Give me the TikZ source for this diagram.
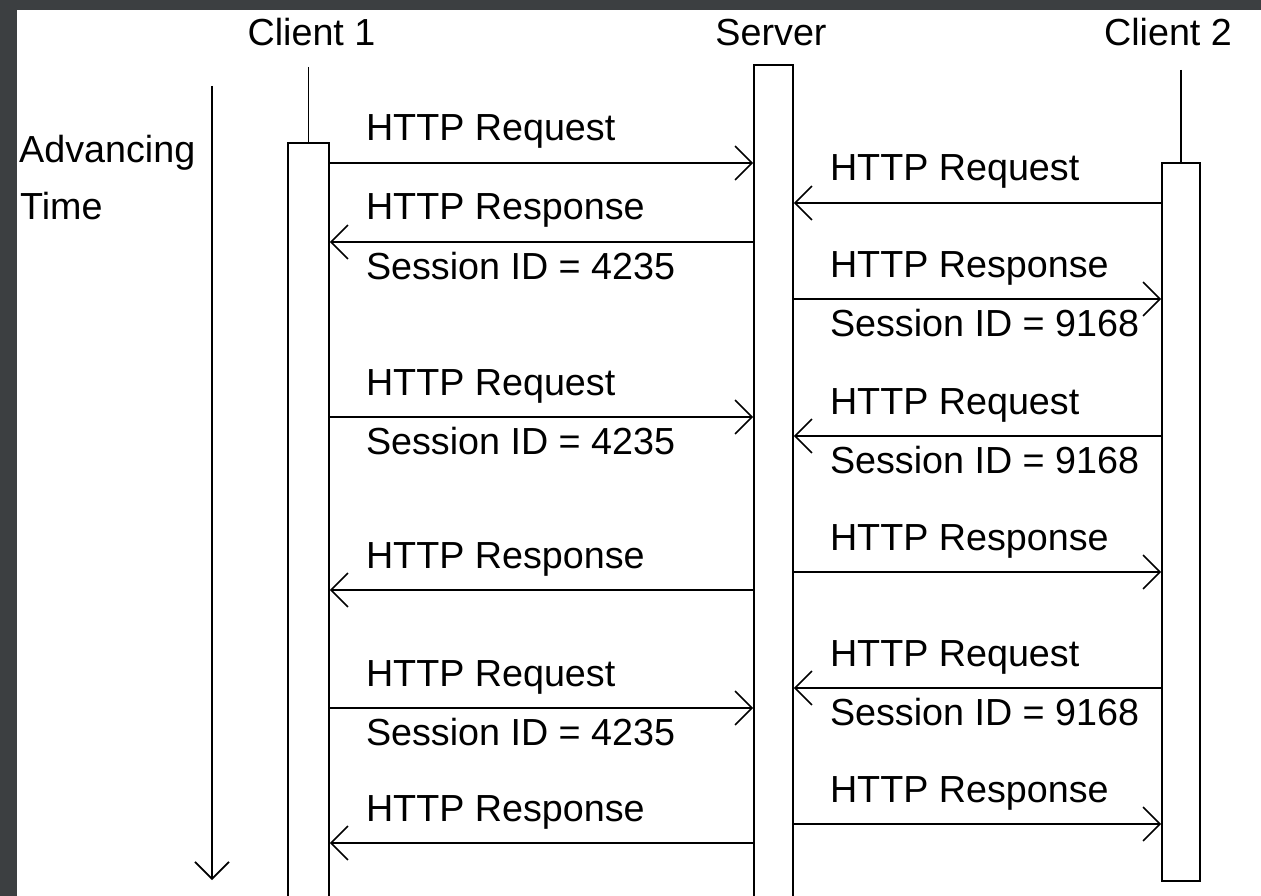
\documentclass[tikz,border=0pt]{standalone}
\usepackage{fontspec}
\setmainfont{Liberation Sans}
\usetikzlibrary{arrows.meta}
\definecolor{bggray}{RGB}{60,63,65}
\tikzset{
  lifebox/.style={draw, line width=1.6pt, anchor=north, minimum height=900pt, inner sep=0pt},
  msg/.style={line width=1.6pt, -{Straight Barb[length=17pt, width=34pt]}},
  lbl/.style={anchor=base west, inner sep=0pt, font=\fontsize{37.7}{45}\selectfont},
  title/.style={lbl, anchor=base},
  over/.style={lbl, xshift=36pt, yshift=22pt},
  under/.style={lbl, xshift=36pt, yshift=-37pt},
}

\begin{document}
\begin{tikzpicture}[x=1pt, y=-1pt]
      \fill[bggray] (0,0) rectangle (1261,896);
      \useasboundingbox (0,0) rectangle (1261,896);
      \fill[white] (17,10) rectangle (1261,896);

      \node[title] (c1name) at (311.5,46) {Client 1};
      \node[title] (srvname) at (771,46) {Server};
      \node[title] (c2name) at (1168,46) {Client 2};

      \node[lifebox, minimum width=41pt] (c1) at (308.5,142) {};
      \node[lifebox, minimum width=39pt] (srv) at (773.5,64) {};
      \node[lifebox, minimum width=38pt, minimum height=718pt] (c2) at (1181,162) {};
      \coordinate (c1top) at (308.5,67);
      \coordinate (c2top) at (1181,70);
      \draw[line width=1.6pt] (c1top) -- (c1.north);
      \draw[line width=1.6pt] (c2top) -- (c2.north);

      \coordinate (tstart) at (212,86);
      \coordinate (tend) at (212,880);
      \draw[msg] (tstart) -- (tend);
      \node[lbl] (adv) at (19,163) {Advancing};
      \node[lbl] (time) at (20,220) {Time};

      \path (0,163) coordinate (a1) (0,242) coordinate (a2)
            (0,417) coordinate (a3) (0,590) coordinate (a4)
            (0,708) coordinate (a5) (0,843) coordinate (a6);
      \path (0,203) coordinate (b1) (0,299) coordinate (b2)
            (0,436) coordinate (b3) (0,572) coordinate (b4)
            (0,688) coordinate (b5) (0,824) coordinate (b6);

      \draw[msg] (c1.east |- a1) -- (srv.west |- a1);
      \draw[msg] (srv.west |- a2) -- (c1.east |- a2);
      \draw[msg] (c1.east |- a3) -- (srv.west |- a3);
      \draw[msg] (srv.west |- a4) -- (c1.east |- a4);
      \draw[msg] (c1.east |- a5) -- (srv.west |- a5);
      \draw[msg] (srv.west |- a6) -- (c1.east |- a6);

      \draw[msg] (c2.west |- b1) -- (srv.east |- b1);
      \draw[msg] (srv.east |- b2) -- (c2.west |- b2);
      \draw[msg] (c2.west |- b3) -- (srv.east |- b3);
      \draw[msg] (srv.east |- b4) -- (c2.west |- b4);
      \draw[msg] (c2.west |- b5) -- (srv.east |- b5);
      \draw[msg] (srv.east |- b6) -- (c2.west |- b6);

      \node[over] (a1t) at (c1.east |- a1) {HTTP Request};
      \node[over] (a2t) at (c1.east |- a2) {HTTP Response};
      \node[under] (a2b) at (c1.east |- a2) {Session ID = 4235};
      \node[over] (a3t) at (c1.east |- a3) {HTTP Request};
      \node[under] (a3b) at (c1.east |- a3) {Session ID = 4235};
      \node[over] (a4t) at (c1.east |- a4) {HTTP Response};
      \node[over] (a5t) at (c1.east |- a5) {HTTP Request};
      \node[under] (a5b) at (c1.east |- a5) {Session ID = 4235};
      \node[over] (a6t) at (c1.east |- a6) {HTTP Response};

      \node[over] (b1t) at (srv.east |- b1) {HTTP Request};
      \node[over] (b2t) at (srv.east |- b2) {HTTP Response};
      \node[under] (b2b) at (srv.east |- b2) {Session ID = 9168};
      \node[over] (b3t) at (srv.east |- b3) {HTTP Request};
      \node[under] (b3b) at (srv.east |- b3) {Session ID = 9168};
      \node[over] (b4t) at (srv.east |- b4) {HTTP Response};
      \node[over] (b5t) at (srv.east |- b5) {HTTP Request};
      \node[under] (b5b) at (srv.east |- b5) {Session ID = 9168};
      \node[over] (b6t) at (srv.east |- b6) {HTTP Response};

    \end{tikzpicture}
\end{document}
